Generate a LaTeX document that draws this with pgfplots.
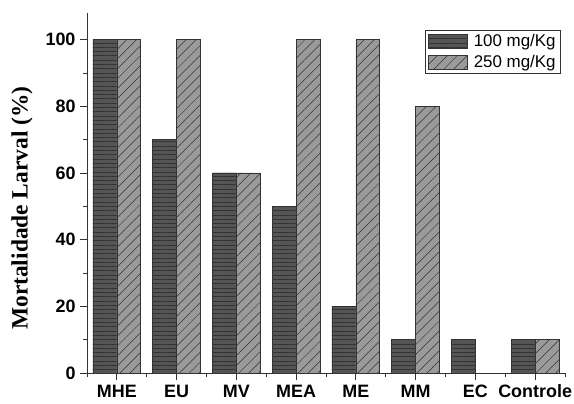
\documentclass[border=0pt]{standalone}
\usepackage{fontspec}
\setmainfont{Liberation Sans}
\newfontfamily\timesfont{Liberation Serif}
\usepackage{pgfplots}
\pgfplotsset{compat=1.18}
\usetikzlibrary{patterns.meta}

\definecolor{barDark}{HTML}{555555}
\definecolor{barLight}{HTML}{9A9A9A}
\definecolor{edge}{HTML}{333333}

\pgfplotsset{boxlegend/.style={legend image code/.code={%
  \draw[##1] (0bp,-7bp) rectangle (39bp,7bp);}}}

\begin{document}
\begin{tikzpicture}
\begin{axis}[
  scale only axis,
  width=478bp, height=360bp,
  ybar=0pt, bar width=0.4,
  every axis plot post/.append style={boxlegend},
  xmin=-0.5, xmax=7.5,
  ymin=0, ymax=108,
  axis x line*=bottom, axis y line*=left,
  axis line style={edge, line width=0.9pt},
  xtick={0,...,7},
  xticklabels={MHE,EU,MV,MEA,ME,MM,EC,Controle},
  minor xtick={-0.5,0.5,...,7.5},
  ytick={0,20,...,100},
  minor ytick={10,30,...,90},
  tick align=outside,
  tick style={edge, line width=0.8pt},
  major tick length=7bp, minor tick length=4bp,
  /pgf/number format/assume math mode=true,
  tick label style={font=\fontsize{18}{18}\selectfont\bfseries},
  xticklabel style={anchor=base, yshift=-17bp},
  yticklabel style={xshift=-1bp},
  ylabel={\timesfont\bfseries Mortalidade Larval (\%)},
  ylabel style={font=\fontsize{23.5}{24}\selectfont,
    at={(axis description cs:-0.136,0.458)}, anchor=center},
  legend style={at={(0.9916,0.952)}, anchor=north east,
    font=\fontsize{17}{19}\selectfont, draw=edge, line width=0.6pt,
    inner xsep=3bp, inner ysep=2bp, row sep=3bp, column sep=4bp,
    legend cell align=left},
]
\addplot[fill=barDark, draw=edge, line width=0.6pt,
  postaction={pattern={Lines[angle=0,distance=4.3bp,line width=0.5pt]}, pattern color=black!80}]
  coordinates {(0,100) (1,70) (2,60) (3,50) (4,20) (5,10) (6,10) (7,10)};
\addplot[fill=barLight, draw=edge, line width=0.6pt,
  postaction={pattern={Lines[angle=45,distance=7bp,line width=0.5pt]}, pattern color=black!80}]
  coordinates {(0,100) (1,100) (2,60) (3,100) (4,100) (5,80) (7,10)};
\legend{100 mg/Kg, 250 mg/Kg}
\end{axis}
\pgfresetboundingbox
\path (current axis.south west) ++(-87bp,-31bp) rectangle ++(574bp,404bp);
\end{tikzpicture}
\end{document}
